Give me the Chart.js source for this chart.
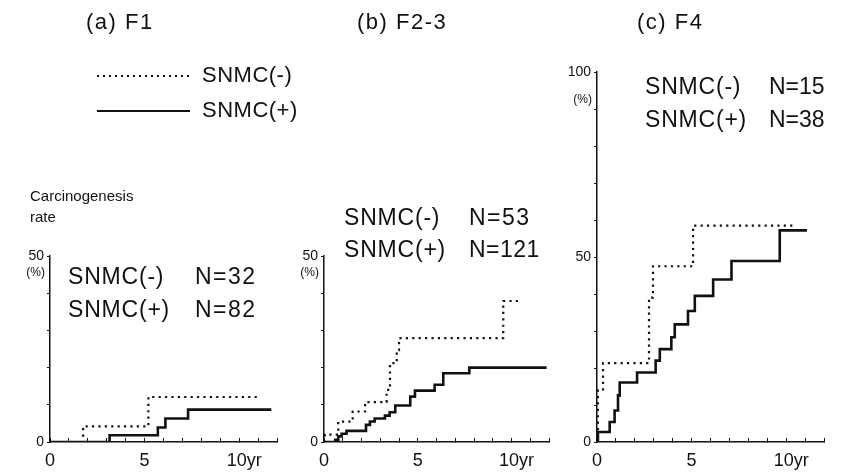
<!DOCTYPE html>
<html>
<head>
<meta charset="utf-8">
<script src="https://cdn.jsdelivr.net/npm/chart.js@4.4.0/dist/chart.umd.min.js"></script>
<style>
  html, body { margin: 0; padding: 0; background: #fff; }
  #wrap { position: relative; width: 844px; height: 474px; }
  #wrap canvas { position: absolute; left: 0; top: 0; }
</style>
</head>
<body>
<div id="wrap">
  <canvas id="chartA" width="844" height="474"></canvas>
  <canvas id="chartB" width="844" height="474"></canvas>
  <canvas id="chartC" width="844" height="474"></canvas>
</div>
<script>
// cumulative carcinogenesis rate (%) at each step, years since start
var f1NegYears = [0, 1.75, 5.2, 11.0];
var f1NegRate  = [0, 4.2, 12.1, 12.1];
var f1PosYears = [0, 3.15, 5.7, 6.1, 7.3, 11.7];
var f1PosRate  = [0, 1.8, 3.9, 6.3, 8.7, 8.7];

var f23NegYears = [0, 0.05, 0.76, 1.53, 2.19, 3.34, 3.52, 3.88, 4.0, 9.56, 10.45];
var f23NegRate  = [0, 2.0, 5.5, 8.2, 10.7, 14.0, 21.2, 24.7, 27.9, 37.9, 37.9];
var f23PosYears = [0, 0.6, 0.76, 0.94, 1.2, 2.24, 2.45, 2.7, 3.25, 3.5, 3.8, 4.6, 4.85, 5.9, 6.36, 7.75, 11.87];
var f23PosRate  = [0, 0.6, 1.5, 2.2, 3.0, 4.6, 5.5, 6.3, 7.1, 8.0, 9.8, 12.2, 13.8, 15.4, 18.5, 20.0, 20.0];

var f4NegYears = [0, 0.05, 0.32, 2.75, 2.96, 5.08, 10.55];
var f4NegRate  = [0, 13.9, 21.3, 39.0, 47.5, 58.5, 58.5];
var f4PosYears = [0, 0.05, 0.67, 0.93, 1.11, 1.2, 2.12, 3.1, 3.32, 3.93, 4.11, 4.81, 5.17, 6.14, 7.11, 9.66, 11.1];
var f4PosRate  = [0, 2.7, 5.4, 8.5, 12.6, 16.1, 18.8, 22.0, 25.1, 28.3, 31.8, 35.4, 39.5, 43.9, 48.9, 57.2, 57.2];

var xTickLabels = {0: '0', 5: '5', 10: '  10yr'};

var FONT = '"Liberation Sans", Arial, Helvetica, sans-serif';
var INK = '#111';

function pts(xs, ys) {
  return xs.map(function (x, i) { return {x: x, y: ys[i]}; });
}

function textPlugin(items, pctValue, extra) {
  return {
    id: 'panelText',
    afterDraw: function (chart) {
      var c = chart.ctx;
      c.save();
      c.fillStyle = INK;
      c.textBaseline = 'middle';
      items.forEach(function (it) {
        c.font = it.s + 'px ' + FONT;
        c.letterSpacing = (it.ls || 0) + 'px';
        c.textAlign = it.a || 'left';
        c.fillText(it.t, it.x, it.y);
      });
      c.letterSpacing = '0px';
      // "(%)" unit under the top y label
      c.font = '12px ' + FONT;
      c.textAlign = 'right';
      c.fillText('(%)', chart.chartArea.left - 5, chart.scales.y.getPixelForValue(pctValue));
      if (extra) extra(c);
      c.restore();
    }
  };
}

function makeChart(id, negX, negY, posX, posY, yMax, yLabels, pad, plugin) {
  return new Chart(document.getElementById(id), {
    type: 'line',
    data: {
      datasets: [
        {
          label: 'SNMC(-)',
          data: pts(negX, negY),
          stepped: true,
          borderColor: INK,
          borderWidth: 2.2,
          borderDash: [2.2, 4.2],
          pointRadius: 0,
          fill: false
        },
        {
          label: 'SNMC(+)',
          data: pts(posX, posY),
          stepped: true,
          borderColor: INK,
          borderWidth: 2.6,
          pointRadius: 0,
          fill: false
        }
      ]
    },
    options: {
      responsive: false,
      animation: false,
      devicePixelRatio: 1,
      layout: {padding: pad},
      plugins: {legend: {display: false}, tooltip: {enabled: false}},
      scales: {
        x: {
          type: 'linear',
          min: 0,
          max: 12,
          afterFit: function (s) { s.height = 32; },
          border: {color: INK, width: 1.5},
          grid: {drawOnChartArea: false, drawTicks: true, tickLength: -4, color: INK},
          ticks: {
            stepSize: 1,
            autoSkip: false,
            maxRotation: 0,
            padding: 12,
            color: INK,
            font: {family: FONT, size: 18},
            callback: function (v) { return xTickLabels[v] || ''; }
          }
        },
        y: {
          min: 0,
          max: yMax,
          afterFit: function (s) { s.width = 45; },
          border: {color: INK, width: 1.5},
          grid: {drawOnChartArea: false, drawTicks: true, tickLength: 3, color: INK},
          ticks: {
            stepSize: 10,
            autoSkip: false,
            padding: 3,
            color: INK,
            font: {family: FONT, size: 14},
            callback: function (v) { return yLabels.indexOf(v) >= 0 ? String(v) : ''; }
          }
        }
      }
    },
    plugins: [plugin]
  });
}

// (a) F1, with the shared legend and axis caption
makeChart('chartA', f1NegYears, f1NegRate, f1PosYears, f1PosRate, 50, [0, 50],
  {left: 5, top: 256, right: 844 - 277, bottom: 0},
  textPlugin([
    {t: '(a) F1', x: 86, y: 23, s: 22, ls: 1.5},
    {t: 'SNMC(-)', x: 202, y: 76, s: 22, ls: 0.5},
    {t: 'SNMC(+)', x: 202, y: 111, s: 22, ls: 0.5},
    {t: 'Carcinogenesis', x: 30, y: 197, s: 15},
    {t: 'rate', x: 30, y: 218, s: 15},
    {t: 'SNMC(-)', x: 68, y: 278, s: 23, ls: 0.8},
    {t: 'N=32', x: 195, y: 278, s: 23, ls: 1.5},
    {t: 'SNMC(+)', x: 68, y: 311, s: 23, ls: 0.8},
    {t: 'N=82', x: 195, y: 311, s: 23, ls: 1.5}
  ], 45.5, function (c) {
    c.strokeStyle = INK;
    c.lineWidth = 2;
    c.setLineDash([2, 4]);
    c.beginPath(); c.moveTo(97, 76); c.lineTo(190, 76); c.stroke();
    c.setLineDash([]);
    c.beginPath(); c.moveTo(97, 111); c.lineTo(190, 111); c.stroke();
  }));

// (b) F2-3
makeChart('chartB', f23NegYears, f23NegRate, f23PosYears, f23PosRate, 50, [0, 50],
  {left: 324 - 45, top: 256, right: 844 - 549, bottom: 0},
  textPlugin([
    {t: '(b) F2-3', x: 357, y: 23, s: 22, ls: 1.5},
    {t: 'SNMC(-)', x: 344, y: 219, s: 23, ls: 0.8},
    {t: 'N=53', x: 469, y: 219, s: 23, ls: 1.5},
    {t: 'SNMC(+)', x: 344, y: 251, s: 23, ls: 0.8},
    {t: 'N=121', x: 469, y: 251, s: 23, ls: 0.5}
  ], 45.5));

// (c) F4
makeChart('chartC', f4NegYears, f4NegRate, f4PosYears, f4PosRate, 100, [0, 50, 100],
  {left: 597 - 45, top: 72, right: 844 - 824, bottom: 0},
  textPlugin([
    {t: '(c) F4', x: 637, y: 23, s: 22, ls: 1.5},
    {t: 'SNMC(-)', x: 645, y: 88, s: 23, ls: 0.8},
    {t: 'N=15', x: 769, y: 88, s: 23},
    {t: 'SNMC(+)', x: 645, y: 121, s: 23, ls: 0.8},
    {t: 'N=38', x: 769, y: 121, s: 23}
  ], 92.5));
</script>
</body>
</html>
